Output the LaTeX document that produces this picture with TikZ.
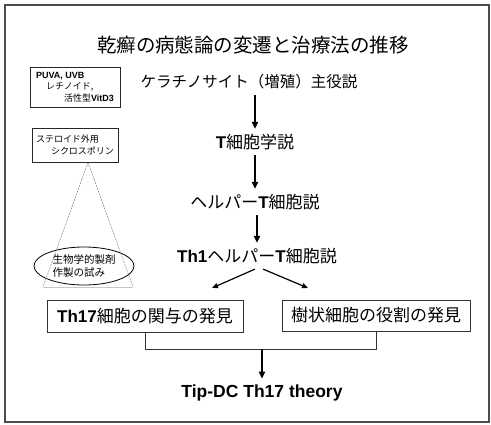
\documentclass[tikz,border=0pt]{standalone}
\usepackage{fontspec}
\setmainfont{Noto Sans CJK JP}
\newfontfamily\lat{Liberation Sans}
\newcommand{\latb}[1]{{\lat\bfseries #1}}
\usetikzlibrary{arrows.meta,shapes.geometric}

\tikzset{
  stage/.style={inner sep=5pt, font=\fontsize{17}{19}\selectfont},
  found/.style={draw=black!80, line width=0.9pt, inner sep=2pt, minimum height=32pt, font=\fontsize{17}{19}\selectfont},
  drug/.style={draw=black!85, line width=0.8pt, align=left, inner sep=3pt, font=\fontsize{9}{11.5}\selectfont},
  flow/.style={-{Triangle[length=7pt,width=6pt]}, line width=1.8pt},
  split/.style={-{Triangle[length=6pt,width=5pt]}, line width=1.2pt},
  mergeline/.style={draw=black!80, line width=0.9pt},
  hint/.style={gray, dash pattern=on 2pt off 1pt, line width=0.5pt},
}

\begin{document}
\begin{tikzpicture}[x=1pt,y=-1pt]
   \useasboundingbox (0,0) rectangle (491,424);
   \draw[black!70, line width=1.6pt] (5,5) rectangle (489,422);
   \path (253,45) node[font=\fontsize{19.5}{22}\selectfont] (title) {乾癬の病態論の変遷と治療法の推移};
   \path (249,82) node[stage, font=\fontsize{15.5}{18}\selectfont] (K) {ケラチノサイト（増殖）主役説};
   \path (255,142) node[stage] (T) {\latb{T}細胞学説};
   \path (255,202) node[stage] (H) {ヘルパー\latb{T}細胞説};
   \path (257,256) node[stage] (Th1) {\latb{Th1}ヘルパー\latb{T}細胞説};
   \path (145,316.5) node[found, minimum width=196pt] (Th17) {\latb{Th17}細胞の関与の発見};
   \path (376,315.5) node[found, minimum width=188pt, minimum height=31pt] (DC) {樹状細胞の役割の発見};
   \path (262,393) node[inner sep=6pt, font=\lat\bfseries\fontsize{17.5}{20}\selectfont] (tip) {Tip-DC Th17 theory};
   \path (75,87) node[drug, minimum width=90pt, minimum height=40pt] (uv)
   {\latb{PUVA, UVB}\\\hspace*{10pt}レチノイド,\\\hspace*{28pt}活性型\latb{VitD3}};
   \path (75,145) node[drug, minimum width=86pt, minimum height=34pt] (st)
   {ステロイド外用\\\hspace*{15pt}シクロスポリン};
   \path (84,266) node[ellipse, draw, line width=0.8pt, minimum width=100pt, minimum height=38pt, inner sep=0pt,
     align=left, font=\fontsize{10.5}{13}\selectfont] (bio) {生物学的製剤\\作製の試み};
   \path (43,287) coordinate (bl) (133,287) coordinate (br);
   \path (212,288) coordinate (la) (308,288) coordinate (ra);
   \draw[hint] ([xshift=13pt]st.south) -- (bl);
   \draw[hint] ([xshift=13pt]st.south) -- (br);
   \draw[gray!45, line width=0.6pt] (bl) -- (br);
   \draw[flow] (T.north |- K.south) -- (T.north);
   \draw[flow] (T.south) -- (H.north);
   \draw[flow] (H.south -| Th1.north) -- (Th1.north);
   \draw[split] ([xshift=-2pt]Th1.south) -- (la);
   \draw[split] ([xshift=6pt]Th1.south) -- (ra);
   \draw[mergeline] (Th17.south) -- ++(0,16) coordinate (m) -| (DC.south);
   \path (262,348.5) coordinate (j);
   \draw[flow] (j) -- (tip);
\end{tikzpicture}
\end{document}
